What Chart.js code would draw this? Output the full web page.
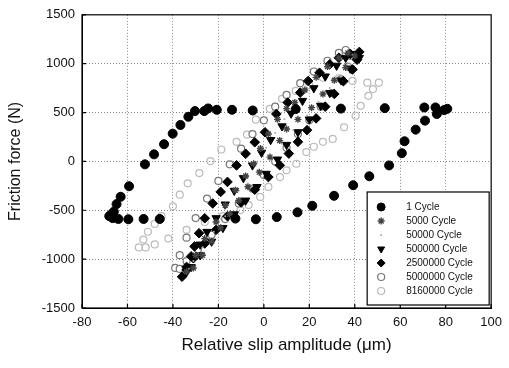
<!DOCTYPE html>
<html>
<head>
<meta charset="utf-8">
<script src="https://cdn.jsdelivr.net/npm/chart.js@4.4.1/dist/chart.umd.min.js"></script>
<style>
  html, body { margin: 0; padding: 0; background: #fff; }
</style>
</head>
<body>
<canvas id="frictionChart" width="509" height="368"></canvas>
<script>
const xTicks = [-80, -60, -40, -20, 0, 20, 40, 60, 80, 100];
const yTicks = [-1500, -1000, -500, 0, 500, 1000, 1500];

const seriesLabels = ['1 Cycle', '5000 Cycle', '50000 Cycle', '500000 Cycle', '2500000 Cycle', '5000000 Cycle', '8160000 Cycle'];

// [slip (um), friction force (N)]
const cycle1 = [[-66.5,-580],[-68,-560],[-67,-540],[-66,-515],[-64.8,-437],[-63,-362],[-59.3,-254],[-52.3,-30],[-48.3,72],[-43.9,176],[-40.1,284],[-36.7,373],[-33.2,457],[-30.3,515],[-26.2,515],[-24.5,542],[-20.7,528],[-14,528],[-4.9,521],[14,535],[33.9,540],[53.2,545],[70.6,552],[75.5,552],[79.3,525],[80.7,538],[76.1,485],[70.9,417],[66.8,325],[61.9,206],[60.7,84],[55.1,-41],[46.4,-152],[39.3,-244],[30.9,-352],[21.3,-454],[14.8,-521],[5.7,-570],[-3.5,-592],[-12.5,-585],[-45.8,-589],[-52.9,-589],[-59.6,-592],[-64,-589]];
const cycle5k = [[-34,-1130],[-30,-960],[-26,-790],[-21,-620],[-17,-450],[-12.5,-295],[-8,-150],[-4.5,-24],[-1.5,132],[2,281],[6,430],[10,540],[13.6,602],[18,730],[23,860],[28,970],[33,1060],[37,1110],[40,1080],[36,960],[31,830],[26,690],[21,550],[15,430],[10,332],[7,213],[2.7,44],[-2,-110],[-7,-260],[-11,-400],[-15,-540],[-19,-680],[-23,-820],[-27,-960],[-31,-1090]];
const cycle50k = [[-33,-1100],[-29,-940],[-25,-780],[-20,-610],[-16,-460],[-11,-300],[-7,-160],[-3,-10],[1,140],[5,290],[9,430],[14,580],[19,720],[24,850],[29,960],[34,1050],[39,1090],[38,1000],[34,880],[29,750],[24,610],[19,470],[13,320],[8,180],[3,40],[-2,-100],[-7,-250],[-12,-400],[-17,-560],[-22,-720],[-27,-880],[-31,-1020]];
const cycle500k = [[-34,-1130],[-31,-990],[-28,-850],[-25,-720],[-21,-580],[-17,-440],[-13,-300],[-9,-170],[-5,-40],[-1,90],[3,220],[8,360],[12,490],[17,620],[22,750],[27,870],[32,980],[36,1060],[40,1100],[42,1060],[38,950],[34,830],[29,700],[25,570],[20,430],[15,300],[10,170],[6,20],[1,-126],[-3,-261],[-8,-400],[-13,-540],[-18,-680],[-23,-820],[-28,-960],[-32,-1080]];
const cycle2500k = [[-36,-1180],[-34,-1080],[-32,-972],[-30.5,-870],[-28.5,-735],[-26,-582],[-22.5,-430],[-19,-312],[-16,-210],[-12,-41],[-8,78],[-4,196],[0.5,298],[5.5,485],[10.5,602],[16,704],[19.5,823],[24.5,907],[29,993],[33,1060],[38,1100],[42,1120],[41,1040],[39,940],[35,820],[31,690],[27,560],[23,440],[19,320],[15,200],[11,80],[7,-40],[2,-160],[-4,-290],[-10,-420],[-16,-560],[-21,-700],[-26,-840],[-31,-990],[-34,-1110]];
const cycle5000k = [[-39,-1090],[-37,-960],[-34,-780],[-30,-580],[-25,-380],[-20,-200],[-15,-30],[-10,130],[-5,280],[0,420],[5,560],[10,680],[16,800],[22,920],[28,1030],[33,1110],[36,1140],[38,1080],[37,970],[34,840],[30,700],[25,560],[20,420],[15,280],[10,140],[5,0],[0,-140],[-5,-280],[-11,-430],[-17,-590],[-23,-750],[-29,-900],[-34,-1020],[-37,-1100]];
const cycle8160k = [[-55,-880],[-53,-800],[-51,-720],[-48,-640],[-45,-560],[-40,-460],[-37,-340],[-33.5,-224],[-28.4,-119],[-23.5,3],[-18.7,122],[-12,200],[-7.4,274],[-3.5,427],[2.6,538],[8,640],[14,721],[20,780],[26,856],[33,850],[39,823],[45.5,806],[50.6,806],[48,740],[46,671],[42.6,569],[40.4,467],[35.3,349],[30.3,230],[26,200],[22,150],[18.7,95],[14.3,-24],[10,-91],[7.1,-160],[2,-261],[-1.6,-363],[-6.7,-447],[-10.3,-498],[-18,-560],[-26,-620],[-34,-700],[-42,-790],[-48,-850],[-52,-880]];

const FONT = '"Liberation Sans", Arial, Helvetica, sans-serif';
const toPoints = arr => arr.map(p => ({ x: p[0], y: p[1] }));

const framePlugin = {
  id: 'frame',
  afterDatasetsDraw(chart) {
    const { ctx, chartArea: a, scales: { x, y } } = chart;
    ctx.save();
    ctx.strokeStyle = '#000';
    ctx.lineWidth = 1.2;
    ctx.strokeRect(a.left, a.top, a.right - a.left, a.bottom - a.top);
    ctx.beginPath();
    xTicks.forEach(v => {
      const px = x.getPixelForValue(v);
      ctx.moveTo(px, a.bottom); ctx.lineTo(px, a.bottom - 4);
    });
    yTicks.forEach(v => {
      const py = y.getPixelForValue(v);
      ctx.moveTo(a.left, py); ctx.lineTo(a.left + 4, py);
    });
    ctx.stroke();
    ctx.restore();
  }
};

const legendBox = {
  id: 'legendBox',
  afterDraw(chart) {
    const { ctx, chartArea: a } = chart;
    const w = 122, h = 113;
    const left = a.right - w - 2, top = a.bottom - h - 3;
    ctx.save();
    ctx.fillStyle = '#fff';
    ctx.fillRect(left, top, w, h);
    ctx.strokeStyle = '#000';
    ctx.lineWidth = 1.2;
    ctx.strokeRect(left, top, w, h);
    ctx.font = '10px ' + FONT;
    ctx.textBaseline = 'middle';
    chart.data.datasets.forEach((ds, i) => {
      const yy = top + 15 + i * 14;
      ctx.fillStyle = ds.backgroundColor;
      ctx.strokeStyle = ds.borderColor;
      ctx.lineWidth = ds.borderWidth;
      Chart.helpers.drawPoint(ctx, {
        pointStyle: ds.pointStyle,
        radius: Math.min(ds.pointRadius, 4),
        rotation: ds.pointRotation || 0,
        borderWidth: ds.borderWidth
      }, left + 14, yy);
      ctx.fillStyle = '#111';
      ctx.fillText(ds.label, left + 39, yy);
    });
    ctx.restore();
  }
};

const edgeX = v => v === xTicks[0] || v === xTicks[xTicks.length - 1];
const edgeY = v => v === yTicks[0] || v === yTicks[yTicks.length - 1];

new Chart(document.getElementById('frictionChart').getContext('2d'), {
  type: 'scatter',
  data: {
    datasets: [
      { label: seriesLabels[0], data: toPoints(cycle1), pointStyle: 'circle', pointRadius: 4.5, backgroundColor: '#000', borderColor: '#000', borderWidth: 1 },
      { label: seriesLabels[1], data: toPoints(cycle5k), pointStyle: 'star', pointRadius: 3.5, backgroundColor: '#555', borderColor: '#444', borderWidth: 1.4 },
      { label: seriesLabels[2], data: toPoints(cycle50k), pointStyle: 'circle', pointRadius: 1, backgroundColor: '#aaa', borderColor: '#aaa', borderWidth: 0 },
      { label: seriesLabels[3], data: toPoints(cycle500k), pointStyle: 'triangle', pointRotation: 180, pointRadius: 4.8, backgroundColor: '#000', borderColor: '#000', borderWidth: 1 },
      { label: seriesLabels[4], data: toPoints(cycle2500k), pointStyle: 'rectRot', pointRadius: 4.8, backgroundColor: '#000', borderColor: '#000', borderWidth: 1 },
      { label: seriesLabels[5], data: toPoints(cycle5000k), pointStyle: 'circle', pointRadius: 3.5, backgroundColor: '#fff', borderColor: '#777', borderWidth: 1.2 },
      { label: seriesLabels[6], data: toPoints(cycle8160k), pointStyle: 'circle', pointRadius: 3.5, backgroundColor: 'rgba(255,255,255,0)', borderColor: '#bbb', borderWidth: 1.2 }
    ]
  },
  options: {
    responsive: false,
    animation: false,
    layout: { padding: { top: 13, right: 12, left: 0, bottom: 0 } },
    plugins: { legend: { display: false }, tooltip: { enabled: false } },
    scales: {
      x: {
        type: 'linear', min: -80, max: 100,
        afterBuildTicks: s => { s.ticks = xTicks.map(v => ({ value: v })); },
        afterFit: s => { s.height = 60; },
        ticks: { color: '#111', font: { size: 13, family: FONT }, padding: 7, callback: v => String(v) },
        grid: { color: c => edgeX(c.tick.value) ? 'rgba(0,0,0,0)' : '#888', drawTicks: false },
        border: { color: '#000', dash: [1, 2] },
        title: { display: true, text: 'Relative slip amplitude (\u03bcm)', color: '#111', font: { size: 17, family: FONT }, padding: { top: 0, bottom: 12 } }
      },
      y: {
        type: 'linear', min: -1500, max: 1500,
        afterBuildTicks: s => { s.ticks = yTicks.map(v => ({ value: v })); },
        afterFit: s => { s.width = 82; },
        ticks: { color: '#111', font: { size: 13, family: FONT }, padding: 7, callback: v => String(v) },
        grid: { color: c => edgeY(c.tick.value) ? 'rgba(0,0,0,0)' : '#888', drawTicks: false },
        border: { color: '#000', dash: [1, 2] },
        title: { display: true, text: 'Friction force (N)', color: '#111', font: { size: 16, family: FONT }, padding: { top: 6, bottom: 0 } }
      }
    }
  },
  plugins: [framePlugin, legendBox]
});
</script>
</body>
</html>
